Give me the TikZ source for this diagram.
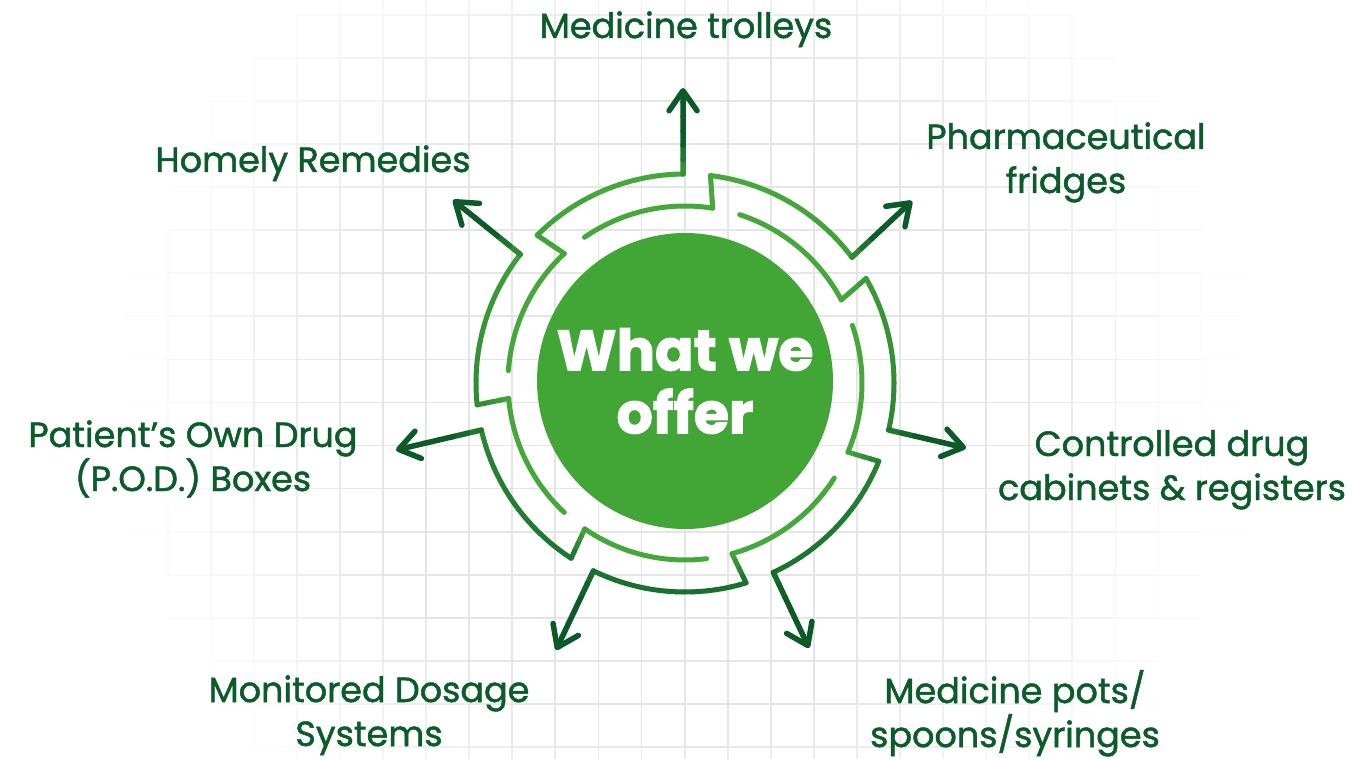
\documentclass[tikz,border=0pt]{standalone}
\usepackage{fontspec}
\setmainfont{Poppins}[BoldFeatures={FakeBold=2}]
\newfontfamily\labfont{Poppins}[FakeBold=1.4]
\usetikzlibrary{arrows.meta,calc}
\definecolor{ringL}{HTML}{45A83A}
\definecolor{ringD}{HTML}{187030}
\definecolor{arrowA}{HTML}{0B5A28}
\definecolor{textG}{HTML}{0B5B2B}
\definecolor{disk}{HTML}{42A637}
\tikzset{
  ring/.style={line width=5pt, line cap=round, line join=round},
  lab/.style={font=\labfont\fontsize{35}{44}\selectfont, text=textG, align=center, anchor=base, inner sep=0pt},
  gridline/.style={line width=1.8pt},
  tiphead/.style={-{Straight Barb[length=20pt,width=28pt,round]}}
}
% #1 free angle, #2 jog inner angle, #3 jog outer angle, #4 arrow base angle, #5,#6 tip (image px), #7 name
\newcommand\strand[7]{%
  \begin{scope}[shift={(685,-383)}]
    \draw[ring, draw=ringL] (#1:177) arc[start angle=#1, end angle=#2, radius=177];
    \pgfmathsetmacro\fj{min(1,max(0,(383-209*sin(#3)-190)/400))}%
    \foreach \j in {0,1,2,3}{%
      \pgfmathsetmacro\ta{\j/4}%
      \pgfmathsetmacro\tb{(\j+1)/4}%
      \pgfmathtruncatemacro\pc{100*\fj*(\j+0.5)/4}%
      \draw[ring, draw=ringD!\pc!ringL] ($(#2:177)!\ta!(#3:209)$) -- ($(#2:177)!\tb!(#3:209)$);
    }
    \foreach \i in {0,...,19}{%
      \pgfmathsetmacro\aa{#3+(#4-#3)*\i/20}%
      \pgfmathsetmacro\bb{#3+(#4-#3)*(\i+1)/20}%
      \pgfmathtruncatemacro\pc{100*min(1,max(0,(383-209*sin((\aa+\bb)/2)-190)/400))}%
      \draw[ring, draw=ringD!\pc!ringL] (\aa:209) arc[start angle=\aa, end angle=\bb, radius=209];
    }
    \coordinate (#7-base) at (#4:209);
  \end{scope}
  \pgfmathtruncatemacro\pe{100*min(1,max(0,(383-209*sin(#4)-190)/400))}%
  \colorlet{startc}{ringD!\pe!ringL}%
  \coordinate (#7-tip) at (#5,-#6);
  \foreach \k in {0,...,4}{%
    \pgfmathsetmacro\ta{\k/6}%
    \pgfmathsetmacro\tb{(\k+1)/6}%
    \pgfmathtruncatemacro\qa{100*min(1,0.3+\k/3)}%
    \draw[ring, line width=5.5pt, draw=arrowA!\qa!startc] ($(#7-base)!\ta!(#7-tip)$) -- ($(#7-base)!\tb!(#7-tip)$);
  }
  \draw[ring, line width=5.5pt, draw=arrowA, tiphead] ($(#7-base)!0.8333!(#7-tip)$) -- (#7-tip);
}
\begin{document}
\begin{tikzpicture}[x=1pt,y=1pt]
\useasboundingbox (0,0) rectangle (1357,-759);
\fill[white] (0,0) rectangle (1357,-759);
% fading grid
\foreach \i in {0,...,30}{%
  \pgfmathsetmacro\gx{38.4+43.08*\i}%
  \foreach \j in {-1,...,17}{%
    \pgfmathsetmacro\gy{15+43.05*\j}%
    \pgfmathsetmacro\Iv{min(1,max(0,(570-veclen(\gx-685,\gy+21.5-400))/240))}%
    \ifdim\Iv pt>0.005pt
      \pgfmathsetmacro\gp{10*\Iv}%
      \draw[gridline, draw=black!\gp] (\gx,-\gy) -- (\gx,-\gy-43.05);
    \fi
    \pgfmathsetmacro\Ih{min(1,max(0,(570-veclen(\gx+21.5-685,\gy-400))/240))}%
    \ifdim\Ih pt>0.005pt
      \pgfmathsetmacro\gq{10*\Ih}%
      \draw[gridline, draw=black!\gq] (\gx,-\gy) -- (\gx+43.08,-\gy);
    \fi
  }
}
% hub
\node[circle, fill=disk, minimum size=296pt, inner sep=0pt, text=white, align=center,
      font=\bfseries\fontsize{57}{63}\selectfont] (hub) at (685,-381) {What we\\offer};
% strands with arrows
\strand{176}{133}{135}{90.5}{683}{88}{s1}
\strand{124.6}{81}{83}{37}{912}{201}{s2}
\strand{72}{28}{30}{-13}{966}{448}{s3}
\strand{19}{-23}{-22}{-65}{809}{648}{s4}
\strand{-32.5}{-74.6}{-73}{-116}{556}{650}{s5}
\strand{-83}{-124.5}{-123}{-167}{396}{450}{s6}
\strand{-133}{-175}{-174}{-218}{453}{200}{s7}
% labels (anchor = baseline of last line)
\node[lab] (trolleys) at (686,-38) {Medicine trolleys};
\node[lab] (fridges) at (1066,-193) {Pharmaceutical\\fridges};
\node[lab] (cd) at (1172,-500) {Controlled drug\\cabinets \& registers};
\node[lab] (pots) at (1015,-747) {Medicine pots/\\spoons/syringes};
\node[lab] (mds) at (369,-746) {Monitored Dosage\\Systems};
\node[lab] (pod) at (193,-491) {Patient’s Own Drug\\(P.O.D.) Boxes};
\node[lab] (homely) at (313,-172) {Homely Remedies};
\end{tikzpicture}
\end{document}
